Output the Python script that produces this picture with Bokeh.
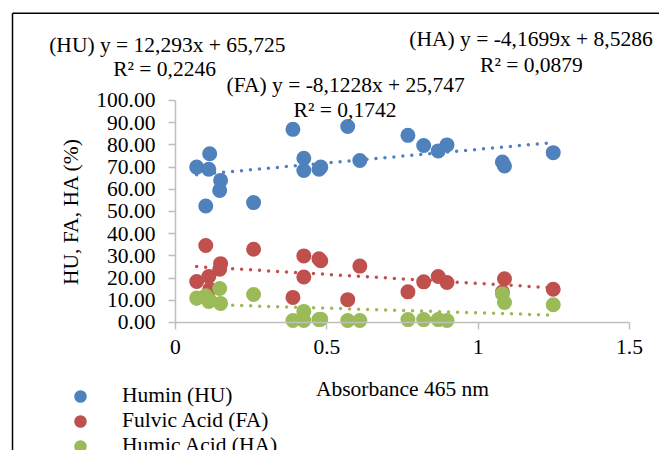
from bokeh.plotting import figure
from bokeh.models import (Range1d, Label, Legend, LegendItem, NumeralTickFormatter,
                          FixedTicker, Arrow, CustomJSTickFormatter, LinearAxis)
from bokeh.embed import file_html
from bokeh.resources import INLINE

# ---- data ----
absorbance = [0.070, 0.100, 0.110, 0.113, 0.146, 0.149, 0.258, 0.388, 0.424, 0.424,
              0.474, 0.480, 0.569, 0.609, 0.768, 0.820, 0.868, 0.897, 1.080, 1.087, 1.248]
humin = [70.0, 52.5, 69.0, 76.0, 59.5, 64.0, 54.0, 87.0, 74.0, 68.5,
         69.0, 70.0, 88.3, 73.0, 84.3, 79.7, 77.3, 80.0, 72.3, 70.5, 76.5]
fulvic = [18.5, 34.7, 20.7, 15.0, 24.0, 26.5, 33.0, 11.3, 30.0, 20.5,
          28.7, 27.8, 10.3, 25.4, 13.8, 18.3, 20.7, 18.0, 13.7, 19.7, 15.0]
humic = [11.0, 12.0, 9.5, 10.0, 15.3, 8.6, 12.6, 0.9, 5.0, 0.9,
         1.3, 1.5, 0.9, 0.9, 1.3, 1.3, 1.3, 0.9, 13.0, 9.0, 8.0]

series_names = ["Humin (HU)", "Fulvic Acid (FA)", "Humic Acid (HA)"]
series_colors = ["#4F81BD", "#C0504D", "#9BBB59"]
trend_slope = [12.293, -8.1228, -4.1699]
trend_intercept = [65.725, 25.747, 8.5286]
eq_texts = ["(HU) y = 12,293x + 65,725", "(FA) y = -8,1228x + 25,747", "(HA) y = -4,1699x + 8,5286"]
r2_texts = ["R² = 0,2246", "R² = 0,1742", "R² = 0,0879"]
x_ticks = [0, 0.5, 1, 1.5]
y_ticks = [0, 10, 20, 30, 40, 50, 60, 70, 80, 90, 100]

FONT = "Liberation Serif"
FS = "21.5px"

# the frame covers the whole canvas; the axes are drawn at fixed data locations
p = figure(width=659, height=450, output_backend="svg", toolbar_location=None,
           x_range=Range1d(-0.57819, 1.59912), y_range=Range1d(-57.658, 145.045),
           min_border=0, x_axis_type=None, y_axis_type=None)
p.outline_line_color = None
p.background_fill_color = "white"
p.border_fill_color = "white"

xaxis = LinearAxis(fixed_location=0, bounds=(0, 1.5), ticker=FixedTicker(ticks=x_ticks),
                   formatter=CustomJSTickFormatter(code="return String(tick)"),
                   axis_label="Absorbance 465 nm")
yaxis = LinearAxis(fixed_location=0, bounds=(0, 100), ticker=FixedTicker(ticks=y_ticks),
                   formatter=NumeralTickFormatter(format="0.00"),
                   axis_label="HU, FA, HA (%)")
for ax in (xaxis, yaxis):
    ax.axis_line_color = "#BFBFBF"
    ax.axis_line_width = 1.5
    ax.major_tick_line_color = "#BFBFBF"
    ax.major_tick_line_width = 1.5
    ax.major_tick_out = 7
    ax.major_tick_in = 0
    ax.minor_tick_line_color = None
    ax.major_label_text_font = FONT
    ax.major_label_text_font_size = FS
    ax.major_label_text_color = "black"
    ax.axis_label_text_font = FONT
    ax.axis_label_text_font_size = FS
    ax.axis_label_text_font_style = "normal"
    ax.axis_label_text_color = "black"
xaxis.major_label_standoff = 11
xaxis.axis_label_standoff = 19
yaxis.major_label_standoff = 13
yaxis.axis_label_standoff = 10
p.add_layout(xaxis, "below")
p.add_layout(yaxis, "left")

values = [humin, fulvic, humic]
renderers = []
for vals, col in zip(values, series_colors):
    r = p.scatter(absorbance, vals, size=10.4, line_width=4.6, color=col)
    renderers.append(r)

xmin, xmax = min(absorbance), max(absorbance)
for m, b, col in zip(trend_slope, trend_intercept, series_colors):
    p.line([xmin, xmax], [m * xmin + b, m * xmax + b], line_color=col, line_width=3.5,
           line_dash="0 9", line_cap="round")

# equations
eq_pos = [(-0.027, 124.8, -0.036, 114.0), (0.562, 106.8, 0.560, 95.5), (1.1745, 127.5, 1.176, 115.8)]
for (x1, y1, x2, y2), t1, t2 in zip(eq_pos, eq_texts, r2_texts):
    p.add_layout(Label(x=x1, y=y1, text=t1, text_align="center", text_baseline="alphabetic",
                       text_font=FONT, text_font_size=FS, text_color="black"))
    p.add_layout(Label(x=x2, y=y2, text=t2, text_align="center", text_baseline="alphabetic",
                       text_font=FONT, text_font_size=FS, text_color="black"))

# outer chart border (left and top edges visible)
p.add_layout(Arrow(end=None, x_start=-0.5385, y_start=-70, x_end=-0.5385, y_end=139.35,
                   line_color="black", line_width=1.5))
p.add_layout(Arrow(end=None, x_start=-0.5385, y_start=139.35, x_end=1.7, y_end=139.35,
                   line_color="black", line_width=1.5))

legend = Legend(items=[LegendItem(label=n, renderers=[r]) for n, r in zip(series_names, renderers)],
                location=(70, -8), orientation="vertical",
                glyph_width=20, glyph_height=24, label_height=24, spacing=0,
                padding=0, margin=0, label_standoff=32,
                label_text_font=FONT, label_text_font_size=FS, label_text_color="black",
                border_line_color=None, background_fill_alpha=0)
p.add_layout(legend)

open("out.html", "w").write(file_html(p, INLINE))
